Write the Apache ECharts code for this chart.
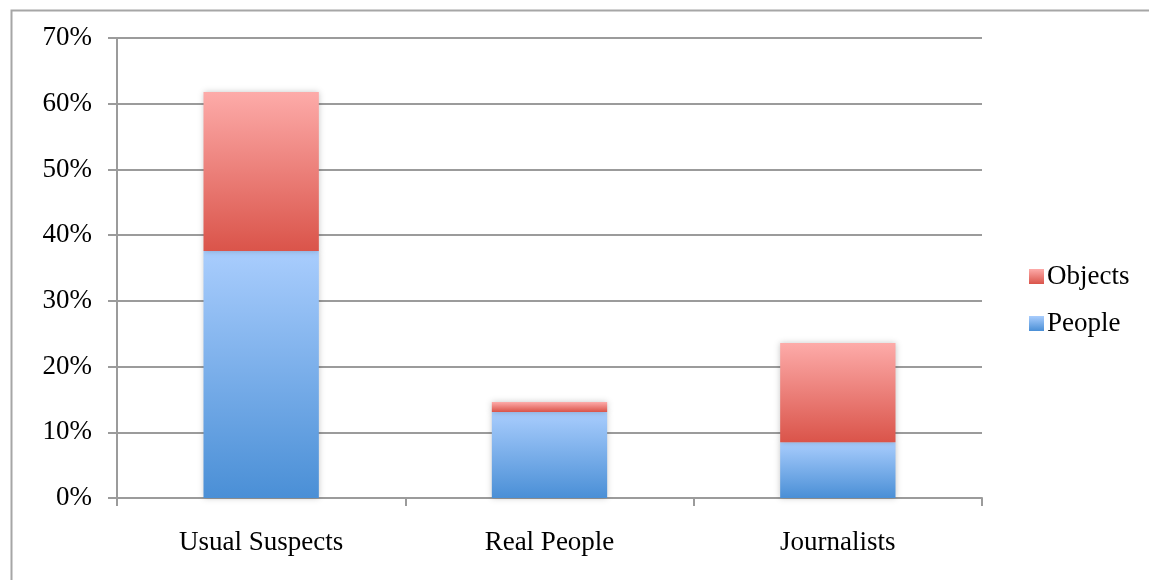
<!DOCTYPE html>
<html>
<head>
<meta charset="utf-8">
<script src="https://cdn.jsdelivr.net/npm/echarts@6/dist/echarts.min.js"></script>
<style>
  html, body { margin: 0; padding: 0; background: #fff; }
  #chart { width: 1149px; height: 580px; }
</style>
</head>
<body>
<div id="chart"></div>
<script>
// Share of mentions by source group, split into people and objects
const categories = ['Usual Suspects', 'Real People', 'Journalists'];
const people = [0.376, 0.131, 0.085];
const objects = [0.242, 0.015, 0.151];
const seriesNames = ['People', 'Objects'];

const FONT = '"Liberation Serif", "DejaVu Serif", serif';
const FONT_SIZE = 27;

function vGrad(top, bottom) {
  return new echarts.graphic.LinearGradient(0, 0, 0, 1, [
    { offset: 0, color: top },
    { offset: 1, color: bottom }
  ]);
}

const chart = echarts.init(document.getElementById('chart'), null, { renderer: 'canvas' });

const barStyle = {
  shadowBlur: 6,
  shadowColor: 'rgba(0,0,0,0.22)',
  shadowOffsetX: 0,
  shadowOffsetY: 0
};

chart.setOption({
  animation: false,
  backgroundColor: '#fff',
  graphic: [
    {
      type: 'rect',
      left: 9, top: 8,
      shape: { width: 1200, height: 620 },
      style: { fill: 'none', stroke: '#a6a6a6', lineWidth: 2 },
      silent: true,
      z: -1
    }
  ],
  grid: { left: 117, right: 167, top: 38, bottom: 82 },
  legend: {
    orient: 'vertical',
    left: 1024,
    top: 258,
    itemWidth: 15,
    itemHeight: 15,
    itemGap: 20,
    icon: 'rect',
    data: ['Objects', 'People'],
    textStyle: { fontFamily: FONT, fontSize: FONT_SIZE, color: '#000', padding: [0, 0, 0, -2] }
  },
  xAxis: {
    type: 'category',
    data: categories,
    boundaryGap: true,
    axisLine: { show: true, lineStyle: { color: '#9b9b9b', width: 2 } },
    axisTick: { show: true, length: 8, lineStyle: { color: '#9b9b9b', width: 2 } },
    axisLabel: { fontFamily: FONT, fontSize: FONT_SIZE, color: '#000', margin: 31 }
  },
  yAxis: {
    type: 'value',
    min: 0,
    max: 0.7,
    interval: 0.1,
    axisLine: { show: true, lineStyle: { color: '#9b9b9b', width: 2 } },
    axisTick: { show: true, length: 9, lineStyle: { color: '#9b9b9b', width: 2 } },
    splitLine: { show: true, lineStyle: { color: '#9b9b9b', width: 2 } },
    axisLabel: {
      fontFamily: FONT, fontSize: FONT_SIZE, color: '#000', margin: 25,
      formatter: v => Math.round(v * 100) + '%'
    }
  },
  series: [
    {
      name: seriesNames[0],
      type: 'bar',
      stack: 'total',
      barWidth: '40%',
      data: people,
      itemStyle: Object.assign({ color: vGrad('#a9cdfd', '#4a8fd6') }, barStyle)
    },
    {
      name: seriesNames[1],
      type: 'bar',
      stack: 'total',
      barWidth: '40%',
      data: objects,
      itemStyle: Object.assign({ color: vGrad('#fdaba9', '#da544a') }, barStyle)
    }
  ]
});
</script>
</body>
</html>
